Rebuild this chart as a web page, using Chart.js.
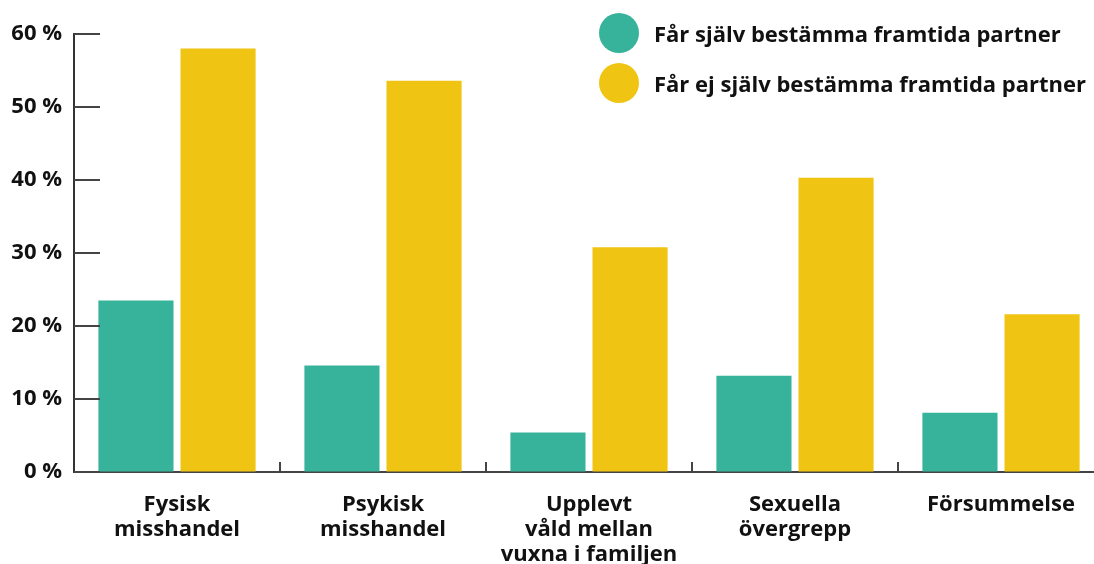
<!DOCTYPE html>
<html>
<head>
<meta charset="utf-8">
<script src="https://cdn.jsdelivr.net/npm/chart.js@4"></script>
<style>
  body { margin: 0; overflow: hidden; background: #fff; font-family: "Open Sans", sans-serif; }
  #wrap { position: relative; width: 1104px; height: 564px; }
  #legend { position: absolute; left: 599px; top: 13px; }
  .item { display: flex; align-items: center; height: 40px; margin-bottom: 10px; }
  .dot { width: 40px; height: 40px; border-radius: 50%; margin-right: 15px; }
  .item span { font-weight: 700; font-size: 22px; color: #111; }
</style>
</head>
<body>
<div id="wrap">
  <canvas id="chart" width="1104" height="564"></canvas>
  <div id="legend"></div>
</div>
<script>
const categories = [
  ['Fysisk', 'misshandel'],
  ['Psykisk', 'misshandel'],
  ['Upplevt', 'våld mellan', 'vuxna i familjen'],
  ['Sexuella', 'övergrepp'],
  ['Försummelse']
];
const seriesNames = ['Får själv bestämma framtida partner', 'Får ej själv bestämma framtida partner'];
const canChoose = [23.5, 14.6, 5.4, 13.2, 8.1];
const cannotChoose = [58.0, 53.6, 30.8, 40.3, 21.6];
const colors = ['#36B39A', '#F0C413'];

// legend
const legendEl = document.getElementById('legend');
seriesNames.forEach((name, i) => {
  const row = document.createElement('div');
  row.className = 'item';
  row.innerHTML = '<div class="dot" style="background:' + colors[i] + '"></div><span>' + name + '</span>';
  legendEl.appendChild(row);
});

// inward tick marks on both axes
const innerTicks = {
  id: 'innerTicks',
  afterDraw(chart) {
    const ctx = chart.ctx;
    const x = chart.scales.x, y = chart.scales.y;
    ctx.save();
    ctx.strokeStyle = '#444';
    ctx.lineWidth = 2;
    y.ticks.forEach(t => {
      const py = y.getPixelForValue(t.value);
      ctx.beginPath();
      ctx.moveTo(y.right, py);
      ctx.lineTo(y.right + 26, py);
      ctx.stroke();
    });
    for (let i = 0; i < categories.length - 1; i++) {
      const px = (x.getPixelForValue(i) + x.getPixelForValue(i + 1)) / 2;
      ctx.beginPath();
      ctx.moveTo(px, x.top);
      ctx.lineTo(px, x.top - 10);
      ctx.stroke();
    }
    ctx.restore();
  }
};

const ctx = document.getElementById('chart').getContext('2d');
new Chart(ctx, {
  type: 'bar',
  data: {
    labels: categories,
    datasets: [
      { label: seriesNames[0], data: canChoose, backgroundColor: colors[0] },
      { label: seriesNames[1], data: cannotChoose, backgroundColor: colors[1] }
    ]
  },
  options: {
    responsive: false,
    animation: false,
    categoryPercentage: 0.797,
    barPercentage: 0.915,
    layout: { padding: { top: 34, left: 0, right: 0, bottom: 0 } },
    plugins: { legend: { display: false }, tooltip: { enabled: false } },
    scales: {
      x: {
        grid: { display: true, drawOnChartArea: false, drawTicks: false },
        border: { display: true, color: '#444', width: 2 },
        ticks: {
          autoSkip: false, maxRotation: 0, padding: 20, color: '#111',
          font: { family: 'Open Sans', weight: 'bold', size: 22, lineHeight: 1.14 }
        },
        afterFit(scale) { scale.height = 92; }
      },
      y: {
        min: 0, max: 60,
        grid: { display: true, drawOnChartArea: false, drawTicks: false },
        border: { display: true, color: '#333', width: 2 },
        ticks: {
          stepSize: 10, padding: 12, color: '#111',
          font: { family: 'Open Sans', weight: 'bold', size: 22 },
          callback: v => v + ' %'
        },
        afterFit(scale) { scale.width = 74; }
      }
    }
  },
  plugins: [innerTicks]
});
</script>
</body>
</html>
